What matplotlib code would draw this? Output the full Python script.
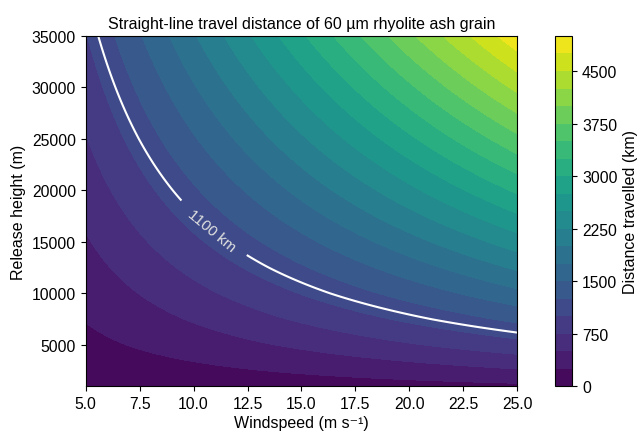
# travel distance contour map for a 60 um rhyolite ash grain

import numpy as np
import matplotlib.pyplot as plt

plt.rcParams['font.family'] = ['Liberation Sans', 'DejaVu Sans']

# release heights (m) and horizontal distance per unit windspeed (km per m/s),
# read off the picture
release_heights = [1000, 2500, 5000, 7500, 10000, 12500, 15000, 17500,
                   20000, 22500, 25000, 27500, 30000, 32500, 35000]
km_per_windspeed = [8.0, 18.8, 36.3, 52.3, 67.3, 81.5, 95.2, 108.6,
                    121.7, 134.6, 147.4, 160.0, 172.5, 184.9, 197.2]

windspeed_range = [5.0, 25.0]
height_range = [1000, 35000]
levels = np.arange(0, 5001, 250)
cbar_ticks = [0, 750, 1500, 2250, 3000, 3750, 4500]
highlight_km = 1100

# grid
ws = np.linspace(windspeed_range[0], windspeed_range[1], 300)
hs = np.linspace(height_range[0], height_range[1], 300)
W, H = np.meshgrid(ws, hs)
dist = W * np.interp(H, release_heights, km_per_windspeed)

fig = plt.figure(figsize=(6.4, 4.35), dpi=100)
ax = fig.add_axes([0.134, 0.110, 0.674, 0.805])
cax = fig.add_axes([0.867, 0.110, 0.027, 0.805])

cf = ax.contourf(W, H, dist, levels=levels, cmap='viridis')
cs = ax.contour(W, H, dist, levels=[highlight_km], colors='white', linewidths=1.5)
ax.clabel(cs, fmt='%d km', fontsize=11, colors='#e0e0e0', inline=True,
          inline_spacing=14, manual=[(11.0, 16500)])

ax.set_xlim(windspeed_range)
ax.set_ylim(height_range)
ax.set_xticks(np.arange(5, 25.1, 2.5))
ax.set_yticks(np.arange(5000, 35001, 5000))
ax.set_xlabel('Windspeed (m s⁻¹)', fontsize=11.5, labelpad=3)
ax.set_ylabel('Release height (m)', fontsize=11.5)
ax.set_title('Straight-line travel distance of 60 µm rhyolite ash grain', fontsize=11.5)
ax.tick_params(labelsize=11.3)

cb = fig.colorbar(cf, cax=cax, ticks=cbar_ticks)
cb.set_label('Distance travelled (km)', fontsize=11.5)
cb.ax.tick_params(labelsize=11.3)

fig.savefig('out.png', dpi=100)
